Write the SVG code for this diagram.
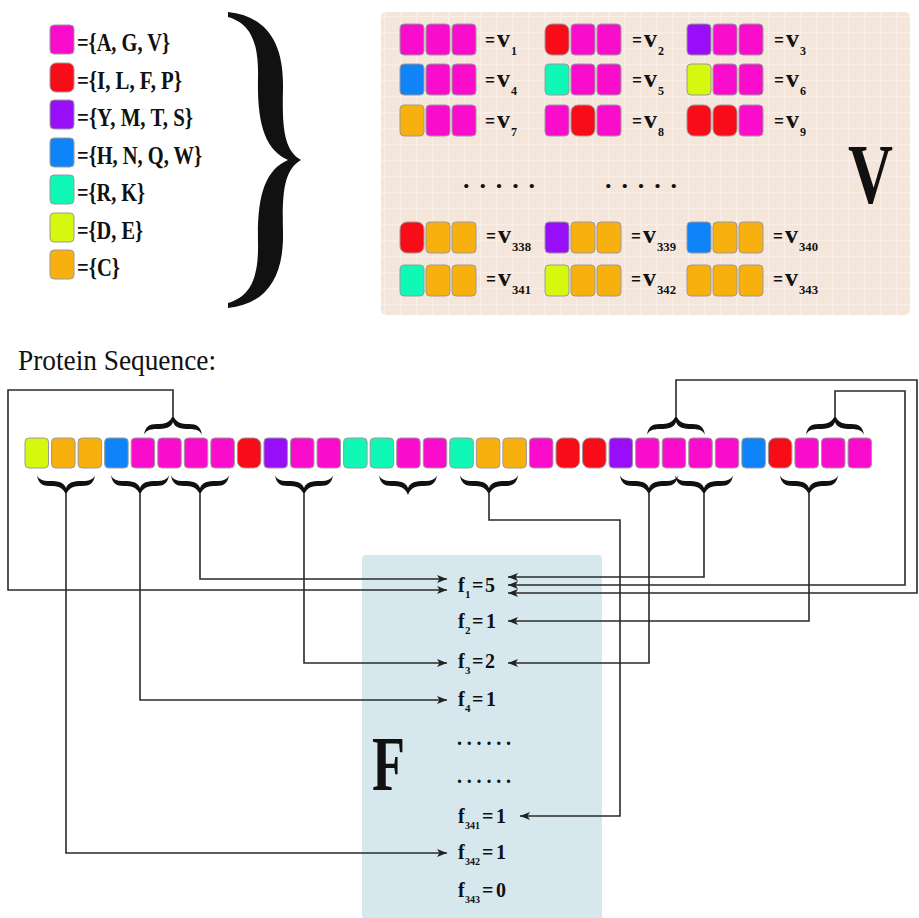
<svg xmlns="http://www.w3.org/2000/svg" xmlns:xlink="http://www.w3.org/1999/xlink" width="919" height="918" viewBox="0 0 919 918">
<style>
.sq{stroke:#9a9a9a;stroke-width:1}
.P{fill:#f90ccb}.R{fill:#f80c17}.U{fill:#980ef8}.B{fill:#0e84f8}.T{fill:#10f8b5}.Y{fill:#d6f70e}.O{fill:#f8b00f}
.lg{font-family:"Liberation Serif",serif;font-weight:bold;font-size:25px;fill:#111}
.vl{font-family:"Liberation Serif",serif;font-weight:bold;font-size:26px;fill:#111}
.eq{font-family:"Liberation Serif",serif;font-weight:bold;font-size:22px;fill:#111}
.vs{font-family:"Liberation Serif",serif;font-weight:bold;font-size:12px;fill:#111}
.fl{font-family:"Liberation Serif",serif;font-weight:bold;font-size:20px;fill:#111}
.fs{font-family:"Liberation Serif",serif;font-weight:bold;font-size:11px;fill:#111}
.big{font-family:"Liberation Serif",serif;fill:#111}
.br{fill:#111}
</style>
<defs>
<pattern id="grid" width="16" height="16" patternUnits="userSpaceOnUse">
<rect width="16" height="16" fill="#f5e6dc"/>
<path d="M0,0.5 H16 M0.5,0 V16" stroke="#f9eee8" stroke-width="1.5"/>
</pattern>
<marker id="ah" viewBox="0 0 10 8" refX="10" refY="4" markerWidth="10" markerHeight="8" markerUnits="userSpaceOnUse" orient="auto">
<path d="M0,0 L10,4 L0,8 L2.5,4 Z" fill="#222"/>
</marker>
<path id="brc" d="M-29,0 C-28,8 -24,11 -16,11 C-8,11 -3,12 0,20 C3,12 8,11 16,11 C24,11 28,8 29,0 C27.5,4 24,6 16,6 C8,6 2,7 0,13 C-2,7 -8,6 -16,6 C-24,6 -27.5,4 -29,0 Z"/>
</defs>
<rect width="919" height="918" fill="#ffffff"/>

<!-- Legend -->
<g id="legend">
<g id="leg-1"><rect class="sq P" x="50" y="25" width="24" height="29" rx="4"/><text class="lg" x="77" y="51" textLength="93" lengthAdjust="spacingAndGlyphs">={A, G, V}</text></g>
<g id="leg-2"><rect class="sq R" x="50" y="63" width="24" height="29" rx="6"/><text class="lg" x="77" y="89" textLength="105" lengthAdjust="spacingAndGlyphs">={I, L, F, P}</text></g>
<g id="leg-3"><rect class="sq U" x="50" y="100" width="24" height="29" rx="4"/><text class="lg" x="77" y="126" textLength="116" lengthAdjust="spacingAndGlyphs">={Y, M, T, S}</text></g>
<g id="leg-4"><rect class="sq B" x="50" y="138" width="24" height="29" rx="4"/><text class="lg" x="77" y="164" textLength="125" lengthAdjust="spacingAndGlyphs">={H, N, Q, W}</text></g>
<g id="leg-5"><rect class="sq T" x="50" y="175" width="24" height="29" rx="4"/><text class="lg" x="77" y="201" textLength="68" lengthAdjust="spacingAndGlyphs">={R, K}</text></g>
<g id="leg-6"><rect class="sq Y" x="50" y="213" width="24" height="29" rx="4"/><text class="lg" x="77" y="239" textLength="66" lengthAdjust="spacingAndGlyphs">={D, E}</text></g>
<g id="leg-7"><rect class="sq O" x="50" y="250" width="24" height="29" rx="4"/><text class="lg" x="77" y="276" textLength="43" lengthAdjust="spacingAndGlyphs">={C}</text></g>
</g>

<!-- Big brace -->
<g id="big-brace">
<path class="br" d="M228,12 C266,16 284,42 283,88 C282,128 284,150 301,160 C284,170 282,192 283,232 C284,278 266,304 228,308 L228,303 C248,297 259,282 258,242 C257,196 265,170 288,160 C265,150 257,124 258,78 C259,38 248,23 228,17 Z"/>
</g>

<!-- V box -->
<g id="vbox">
<rect x="381" y="12" width="529" height="303" rx="5" fill="url(#grid)"/>
<text class="big" x="848" y="203" font-size="84" font-weight="bold" textLength="45" lengthAdjust="spacingAndGlyphs">V</text>
<text class="vl" x="463" y="188" textLength="72" lengthAdjust="spacing">. . . . .</text>
<text class="vl" x="605" y="188" textLength="72" lengthAdjust="spacing">. . . . .</text>

<g id="v1"><rect class="sq P" x="400" y="24" width="24" height="31" rx="4"/><rect class="sq P" x="426" y="24" width="24" height="31" rx="4"/><rect class="sq P" x="452" y="24" width="24" height="31" rx="4"/><text class="eq" x="485" y="47" textLength="10" lengthAdjust="spacingAndGlyphs">=</text><text class="vl" x="497" y="47">v</text><text class="vs" x="511" y="55">1</text></g>
<g id="v2"><rect class="sq R" x="545" y="24" width="24" height="31" rx="7"/><rect class="sq P" x="571" y="24" width="24" height="31" rx="4"/><rect class="sq P" x="597" y="24" width="24" height="31" rx="4"/><text class="eq" x="632" y="47" textLength="10" lengthAdjust="spacingAndGlyphs">=</text><text class="vl" x="644" y="47">v</text><text class="vs" x="658" y="55">2</text></g>
<g id="v3"><rect class="sq U" x="687" y="24" width="24" height="31" rx="4"/><rect class="sq P" x="713" y="24" width="24" height="31" rx="4"/><rect class="sq P" x="739" y="24" width="24" height="31" rx="4"/><text class="eq" x="774" y="47" textLength="10" lengthAdjust="spacingAndGlyphs">=</text><text class="vl" x="786" y="47">v</text><text class="vs" x="800" y="55">3</text></g>

<g id="v4"><rect class="sq B" x="400" y="64" width="24" height="31" rx="4"/><rect class="sq P" x="426" y="64" width="24" height="31" rx="4"/><rect class="sq P" x="452" y="64" width="24" height="31" rx="4"/><text class="eq" x="485" y="87" textLength="10" lengthAdjust="spacingAndGlyphs">=</text><text class="vl" x="497" y="87">v</text><text class="vs" x="511" y="95">4</text></g>
<g id="v5"><rect class="sq T" x="545" y="64" width="24" height="31" rx="4"/><rect class="sq P" x="571" y="64" width="24" height="31" rx="4"/><rect class="sq P" x="597" y="64" width="24" height="31" rx="4"/><text class="eq" x="632" y="87" textLength="10" lengthAdjust="spacingAndGlyphs">=</text><text class="vl" x="644" y="87">v</text><text class="vs" x="658" y="95">5</text></g>
<g id="v6"><rect class="sq Y" x="687" y="64" width="24" height="31" rx="4"/><rect class="sq P" x="713" y="64" width="24" height="31" rx="4"/><rect class="sq P" x="739" y="64" width="24" height="31" rx="4"/><text class="eq" x="774" y="87" textLength="10" lengthAdjust="spacingAndGlyphs">=</text><text class="vl" x="786" y="87">v</text><text class="vs" x="800" y="95">6</text></g>

<g id="v7"><rect class="sq O" x="400" y="105" width="24" height="31" rx="4"/><rect class="sq P" x="426" y="105" width="24" height="31" rx="4"/><rect class="sq P" x="452" y="105" width="24" height="31" rx="4"/><text class="eq" x="485" y="128" textLength="10" lengthAdjust="spacingAndGlyphs">=</text><text class="vl" x="497" y="128">v</text><text class="vs" x="511" y="136">7</text></g>
<g id="v8"><rect class="sq P" x="545" y="105" width="24" height="31" rx="4"/><rect class="sq R" x="571" y="105" width="24" height="31" rx="7"/><rect class="sq P" x="597" y="105" width="24" height="31" rx="4"/><text class="eq" x="632" y="128" textLength="10" lengthAdjust="spacingAndGlyphs">=</text><text class="vl" x="644" y="128">v</text><text class="vs" x="658" y="136">8</text></g>
<g id="v9"><rect class="sq R" x="687" y="105" width="24" height="31" rx="7"/><rect class="sq R" x="713" y="105" width="24" height="31" rx="7"/><rect class="sq P" x="739" y="105" width="24" height="31" rx="4"/><text class="eq" x="774" y="128" textLength="10" lengthAdjust="spacingAndGlyphs">=</text><text class="vl" x="786" y="128">v</text><text class="vs" x="800" y="136">9</text></g>

<g id="v338"><rect class="sq R" x="400" y="222" width="24" height="31" rx="7"/><rect class="sq O" x="426" y="222" width="24" height="31" rx="4"/><rect class="sq O" x="452" y="222" width="24" height="31" rx="4"/><text class="eq" x="486" y="243" textLength="10" lengthAdjust="spacingAndGlyphs">=</text><text class="vl" x="498" y="243">v</text><text class="vs" x="512" y="251" textLength="19" lengthAdjust="spacingAndGlyphs">338</text></g>
<g id="v339"><rect class="sq U" x="545" y="222" width="24" height="31" rx="4"/><rect class="sq O" x="571" y="222" width="24" height="31" rx="4"/><rect class="sq O" x="597" y="222" width="24" height="31" rx="4"/><text class="eq" x="631" y="243" textLength="10" lengthAdjust="spacingAndGlyphs">=</text><text class="vl" x="643" y="243">v</text><text class="vs" x="657" y="251" textLength="19" lengthAdjust="spacingAndGlyphs">339</text></g>
<g id="v340"><rect class="sq B" x="687" y="222" width="24" height="31" rx="4"/><rect class="sq O" x="713" y="222" width="24" height="31" rx="4"/><rect class="sq O" x="739" y="222" width="24" height="31" rx="4"/><text class="eq" x="773" y="243" textLength="10" lengthAdjust="spacingAndGlyphs">=</text><text class="vl" x="785" y="243">v</text><text class="vs" x="799" y="251" textLength="19" lengthAdjust="spacingAndGlyphs">340</text></g>

<g id="v341"><rect class="sq T" x="400" y="265" width="24" height="31" rx="4"/><rect class="sq O" x="426" y="265" width="24" height="31" rx="4"/><rect class="sq O" x="452" y="265" width="24" height="31" rx="4"/><text class="eq" x="486" y="286" textLength="10" lengthAdjust="spacingAndGlyphs">=</text><text class="vl" x="498" y="286">v</text><text class="vs" x="512" y="294" textLength="19" lengthAdjust="spacingAndGlyphs">341</text></g>
<g id="v342"><rect class="sq Y" x="545" y="265" width="24" height="31" rx="4"/><rect class="sq O" x="571" y="265" width="24" height="31" rx="4"/><rect class="sq O" x="597" y="265" width="24" height="31" rx="4"/><text class="eq" x="631" y="286" textLength="10" lengthAdjust="spacingAndGlyphs">=</text><text class="vl" x="643" y="286">v</text><text class="vs" x="657" y="294" textLength="19" lengthAdjust="spacingAndGlyphs">342</text></g>
<g id="v343"><rect class="sq O" x="687" y="265" width="24" height="31" rx="4"/><rect class="sq O" x="713" y="265" width="24" height="31" rx="4"/><rect class="sq O" x="739" y="265" width="24" height="31" rx="4"/><text class="eq" x="773" y="286" textLength="10" lengthAdjust="spacingAndGlyphs">=</text><text class="vl" x="785" y="286">v</text><text class="vs" x="799" y="294" textLength="19" lengthAdjust="spacingAndGlyphs">343</text></g>
</g>

<!-- Title -->
<text id="title" class="big" x="18" y="370" font-size="29" textLength="198" lengthAdjust="spacingAndGlyphs">Protein Sequence:</text>

<!-- F box -->
<g id="fbox">
<rect x="362" y="555" width="240" height="370" rx="4" fill="#d6e8ee"/>
<text class="big" x="372" y="790" font-size="78" font-weight="bold" textLength="33" lengthAdjust="spacingAndGlyphs">F</text>
</g>

<!-- Protein sequence -->
<g id="sequence">
<rect class="sq Y" x="25" y="438" width="23.5" height="30" rx="4"/>
<rect class="sq O" x="51.55" y="438" width="23.5" height="30" rx="4"/>
<rect class="sq O" x="78.1" y="438" width="23.5" height="30" rx="4"/>
<rect class="sq B" x="104.65" y="438" width="23.5" height="30" rx="4"/>
<rect class="sq P" x="131.2" y="438" width="23.5" height="30" rx="4"/>
<rect class="sq P" x="157.75" y="438" width="23.5" height="30" rx="4"/>
<rect class="sq P" x="184.3" y="438" width="23.5" height="30" rx="4"/>
<rect class="sq P" x="210.85" y="438" width="23.5" height="30" rx="4"/>
<rect class="sq R" x="237.4" y="438" width="23.5" height="30" rx="7"/>
<rect class="sq U" x="263.95" y="438" width="23.5" height="30" rx="4"/>
<rect class="sq P" x="290.5" y="438" width="23.5" height="30" rx="4"/>
<rect class="sq P" x="317.05" y="438" width="23.5" height="30" rx="4"/>
<rect class="sq T" x="343.6" y="438" width="23.5" height="30" rx="4"/>
<rect class="sq T" x="370.15" y="438" width="23.5" height="30" rx="4"/>
<rect class="sq P" x="396.7" y="438" width="23.5" height="30" rx="4"/>
<rect class="sq P" x="423.25" y="438" width="23.5" height="30" rx="4"/>
<rect class="sq T" x="449.8" y="438" width="23.5" height="30" rx="4"/>
<rect class="sq O" x="476.35" y="438" width="23.5" height="30" rx="4"/>
<rect class="sq O" x="502.9" y="438" width="23.5" height="30" rx="4"/>
<rect class="sq P" x="529.45" y="438" width="23.5" height="30" rx="4"/>
<rect class="sq R" x="556" y="438" width="23.5" height="30" rx="7"/>
<rect class="sq R" x="582.55" y="438" width="23.5" height="30" rx="7"/>
<rect class="sq U" x="609.1" y="438" width="23.5" height="30" rx="4"/>
<rect class="sq P" x="635.65" y="438" width="23.5" height="30" rx="4"/>
<rect class="sq P" x="662.2" y="438" width="23.5" height="30" rx="4"/>
<rect class="sq P" x="688.75" y="438" width="23.5" height="30" rx="4"/>
<rect class="sq P" x="715.3" y="438" width="23.5" height="30" rx="4"/>
<rect class="sq B" x="741.85" y="438" width="23.5" height="30" rx="4"/>
<rect class="sq R" x="768.4" y="438" width="23.5" height="30" rx="7"/>
<rect class="sq P" x="794.95" y="438" width="23.5" height="30" rx="4"/>
<rect class="sq P" x="821.5" y="438" width="23.5" height="30" rx="4"/>
<rect class="sq P" x="848.05" y="438" width="23.5" height="30" rx="4"/>
</g>

<!-- Braces over / under the sequence -->
<g id="braces" class="br">
<use xlink:href="#brc" href="#brc" transform="translate(173,435) scale(1,-1)"/>
<use xlink:href="#brc" href="#brc" transform="translate(676,435) scale(1,-1)"/>
<use xlink:href="#brc" href="#brc" transform="translate(835,435) scale(1,-1)"/>
<use xlink:href="#brc" href="#brc" transform="translate(66,475)"/>
<use xlink:href="#brc" href="#brc" transform="translate(140,475)"/>
<use xlink:href="#brc" href="#brc" transform="translate(200,475)"/>
<use xlink:href="#brc" href="#brc" transform="translate(304,475)"/>
<use xlink:href="#brc" href="#brc" transform="translate(408,475)"/>
<use xlink:href="#brc" href="#brc" transform="translate(489,475)"/>
<use xlink:href="#brc" href="#brc" transform="translate(649,475)"/>
<use xlink:href="#brc" href="#brc" transform="translate(704,475)"/>
<use xlink:href="#brc" href="#brc" transform="translate(809,475)"/>
</g>

<!-- Connectors -->
<g id="connectors" fill="none" stroke="#2a2a2a" stroke-width="1.6">
<path d="M66,494 V853 H447" marker-end="url(#ah)"/>
<path d="M140,494 V700 H447" marker-end="url(#ah)"/>
<path d="M200,494 V579 H447" marker-end="url(#ah)"/>
<path d="M304,494 V663 H447" marker-end="url(#ah)"/>
<path d="M173,416 V390 H8 V590 H447" marker-end="url(#ah)"/>
<path d="M489,494 V520 H620 V816 H520" marker-end="url(#ah)"/>
<path d="M649,494 V663 H508" marker-end="url(#ah)"/>
<path d="M704,494 V577 H508" marker-end="url(#ah)"/>
<path d="M809,494 V621 H508" marker-end="url(#ah)"/>
<path d="M676,416 V380 H917 V593 H508" marker-end="url(#ah)"/>
<path d="M835,416 V391 H905 V585 H508" marker-end="url(#ah)"/>
</g>

<!-- F labels -->
<g id="f1"><text class="fl" y="592"><tspan x="458">f</tspan><tspan class="fs" x="465" dy="6">1</tspan><tspan x="472" dy="-6">=</tspan><tspan x="485">5</tspan></text></g>
<g id="f2"><text class="fl" y="628"><tspan x="458">f</tspan><tspan class="fs" x="465" dy="6">2</tspan><tspan x="472" dy="-6">=</tspan><tspan x="486">1</tspan></text></g>
<g id="f3"><text class="fl" y="668"><tspan x="458">f</tspan><tspan class="fs" x="465" dy="6">3</tspan><tspan x="472" dy="-6">=</tspan><tspan x="485">2</tspan></text></g>
<g id="f4"><text class="fl" y="706"><tspan x="458">f</tspan><tspan class="fs" x="465" dy="6">4</tspan><tspan x="472" dy="-6">=</tspan><tspan x="486">1</tspan></text></g>
<g id="fdots"><text class="fl" x="457" y="745" textLength="54" lengthAdjust="spacing">......</text><text class="fl" x="457" y="783" textLength="54" lengthAdjust="spacing">......</text></g>
<g id="f341"><text class="fl" y="823"><tspan x="458">f</tspan><tspan class="fs" x="465" dy="6" textLength="15" lengthAdjust="spacingAndGlyphs">341</tspan><tspan x="482" dy="-6">=</tspan><tspan x="496">1</tspan></text></g>
<g id="f342"><text class="fl" y="859"><tspan x="458">f</tspan><tspan class="fs" x="465" dy="6" textLength="15" lengthAdjust="spacingAndGlyphs">342</tspan><tspan x="482" dy="-6">=</tspan><tspan x="496">1</tspan></text></g>
<g id="f343"><text class="fl" y="897"><tspan x="458">f</tspan><tspan class="fs" x="465" dy="6" textLength="15" lengthAdjust="spacingAndGlyphs">343</tspan><tspan x="482" dy="-6">=</tspan><tspan x="496">0</tspan></text></g>
</svg>
